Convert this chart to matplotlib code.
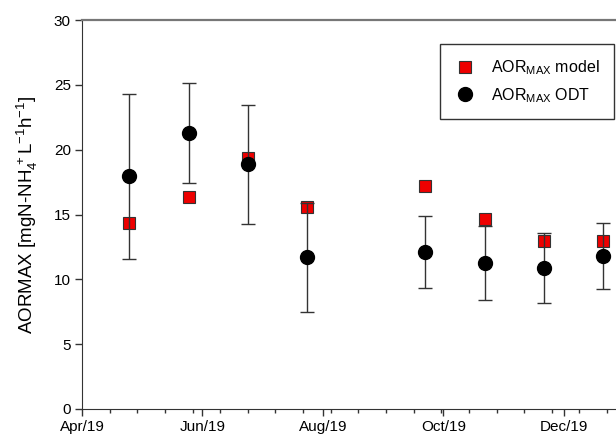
import datetime as dt

import matplotlib
matplotlib.use("Agg")
import matplotlib.pyplot as plt
import matplotlib.dates as mdates
from matplotlib.ticker import FixedLocator

plt.rcParams["font.family"] = ["Liberation Sans", "DejaVu Sans"]
plt.rcParams["mathtext.default"] = "regular"

# sampling campaigns
dates = ["2019-04-25", "2019-05-25", "2019-06-24", "2019-07-24",
         "2019-09-22", "2019-10-22", "2019-11-21", "2019-12-21"]
aor_model = [14.33, 16.38, 19.33, 15.59, 17.18, 14.62, 12.95, 12.95]
aor_odt = [17.95, 21.28, 18.87, 11.69, 12.13, 11.23, 10.87, 11.79]
aor_odt_err = [6.38, 3.87, 4.57, 4.23, 2.77, 2.85, 2.73, 2.55]

x = [dt.datetime.strptime(d, "%Y-%m-%d") for d in dates]
x_start = dt.datetime(2019, 4, 1)
x_end = dt.datetime(2019, 12, 27, 12)

fig = plt.figure(figsize=(6.16, 4.38), dpi=100)
ax = fig.add_axes([82 / 616, 1 - 409 / 438, 1 - 82 / 616, (409 - 20) / 438])

ax.plot(x, aor_model, "s", color="#ee0000", mec="#333333", mew=0.8, ms=8,
        label="AOR$_{MAX}$ model", zorder=2)
ax.errorbar(x, aor_odt, yerr=aor_odt_err, fmt="none", ecolor="#333333",
            elinewidth=1.0, capsize=5, capthick=1.0, zorder=3)
ax.plot(x, aor_odt, "o", color="black", ms=10, label="AOR$_{MAX}$ ODT",
        zorder=4)

ax.set_xlim(x_start, x_end)
ax.set_ylim(0, 30)
ax.set_yticks(range(0, 31, 5))
ax.xaxis.set_major_locator(mdates.MonthLocator(bymonth=[4, 6, 8, 10, 12]))
ax.xaxis.set_major_formatter(mdates.DateFormatter("%b/%y"))
# SigmaPlot style minor ticks: every two weeks from the axis start
minor = [mdates.date2num(x_start + dt.timedelta(days=14 * k)) for k in range(1, 20)]
ax.xaxis.set_minor_locator(FixedLocator(minor))

ax.spines["right"].set_visible(False)
for side in ("left", "bottom"):
    ax.spines[side].set_color("#333333")
ax.spines["top"].set_color("#777777")
ax.spines["top"].set_linewidth(1.6)
ax.tick_params(axis="both", which="major", direction="out", length=5,
               width=1.0, color="#333333", labelsize=11, pad=3)
ax.tick_params(axis="x", which="minor", direction="out", length=3,
               width=1.0, color="#333333")

ax.set_ylabel("AORMAX [mgN-NH$_4^{\\,+}$L$^{-1}$h$^{-1}$]", fontsize=13.5,
              labelpad=10)

leg = ax.legend(loc="upper right", bbox_to_anchor=(1 - 2 / 534, 1 - 24 / 389),
                frameon=True, fancybox=False, fontsize=11.5, borderpad=0.9,
                handlelength=1.4, handletextpad=0.9, labelspacing=0.55,
                borderaxespad=0)
leg.get_frame().set_edgecolor("black")
leg.get_frame().set_linewidth(1.0)

fig.savefig("out.png", dpi=100)
